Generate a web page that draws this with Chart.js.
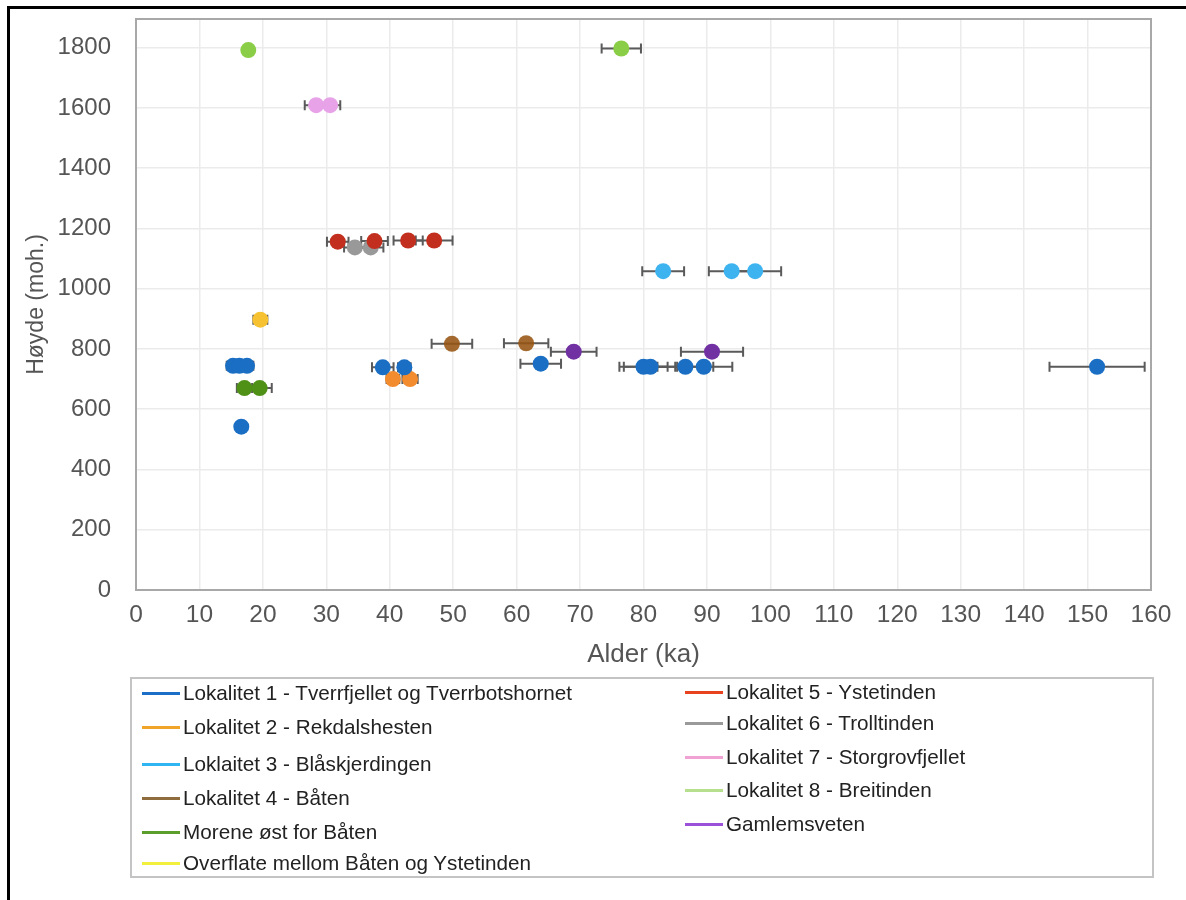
<!DOCTYPE html>
<html>
<head>
<meta charset="utf-8">
<script src="https://cdn.jsdelivr.net/npm/chart.js@4/dist/chart.umd.min.js"></script>
<style>
  body { margin: 0; background: #fff; font-family: "Liberation Sans", Arial, sans-serif; }
  #wrap { position: absolute; left: 0; top: 0; width: 1186px; height: 900px; }
  #frame { position: absolute; left: 7px; top: 6px; width: 1179px; height: 894px;
           border-top: 3px solid #000; border-left: 3px solid #000; box-sizing: border-box; }
  #legend { position: absolute; left: 130px; top: 677px; width: 1024px; height: 201px;
            border: 2px solid #c4c4c4; box-sizing: border-box; }
  .item { position: absolute; height: 24px; line-height: 24px; font-size: 20.7px; color: #222; white-space: nowrap; }
  .item span.line { position: absolute; left: 0; top: 11px; width: 38px; height: 3px; }
  .item span.txt { position: absolute; left: 41px; top: 0; }
</style>
</head>
<body>
<div id="frame"></div>
<div id="wrap"><canvas id="AgeHeightChart"></canvas></div>
<div id="legend"></div>
<script>
// series names
const seriesNames = [
  "Lokalitet 1 - Tverrfjellet og Tverrbotshornet",
  "Lokalitet 2 - Rekdalshesten",
  "Loklaitet 3 - Blåskjerdingen",
  "Lokalitet 4 - Båten",
  "Morene øst for Båten",
  "Overflate mellom Båten og Ystetinden",
  "Lokalitet 5 - Ystetinden",
  "Lokalitet 6 - Trolltinden",
  "Lokalitet 7 - Storgrovfjellet",
  "Lokalitet 8 - Breitinden",
  "Gamlemsveten"
];

// age (ka), height (moh.) and age error (ka) per series
const l1Age = [15.3, 16.3, 17.5, 16.6, 38.9, 42.3, 63.8, 80.0, 81.1, 86.6, 89.5, 151.5];
const l1Height = [744, 744, 744, 542, 739, 739, 751, 741, 741, 741, 741, 741];
const l1Err = [1.0, 1.0, 1.0, 0.5, 1.7, 1.0, 3.2, 3.8, 4.2, 4.4, 4.5, 7.5];

const l2Age = [40.5, 43.2];
const l2Height = [700, 700];
const l2Err = [1.0, 1.2];

const l3Age = [83.1, 93.9, 97.6];
const l3Height = [1058, 1058, 1058];
const l3Err = [3.3, 3.6, 4.1];

const l4Age = [49.8, 61.5];
const l4Height = [817, 819];
const l4Err = [3.2, 3.5];

const moreneAge = [17.1, 19.5];
const moreneHeight = [670, 670];
const moreneErr = [1.2, 1.9];

const overflateAge = [19.6];
const overflateHeight = [897];
const overflateErr = [1.1];

const l5Age = [31.8, 37.6, 42.9, 47.0];
const l5Height = [1156, 1158, 1160, 1160];
const l5Err = [1.7, 2.1, 2.3, 2.9];

const l6Age = [34.5, 37.0];
const l6Height = [1137, 1137];
const l6Err = [1.7, 2.0];

const l7Age = [28.4, 30.6];
const l7Height = [1609, 1609];
const l7Err = [1.8, 1.6];

const l8Age = [17.7, 76.5];
const l8Height = [1792, 1797];
const l8Err = [0.5, 3.1];

const gamlemAge = [69.0, 90.8];
const gamlemHeight = [791, 791];
const gamlemErr = [3.6, 4.9];

const ageList = [l1Age, l2Age, l3Age, l4Age, moreneAge, overflateAge, l5Age, l6Age, l7Age, l8Age, gamlemAge];
const heightList = [l1Height, l2Height, l3Height, l4Height, moreneHeight, overflateHeight, l5Height, l6Height, l7Height, l8Height, gamlemHeight];
const errList = [l1Err, l2Err, l3Err, l4Err, moreneErr, overflateErr, l5Err, l6Err, l7Err, l8Err, gamlemErr];

// marker colours and legend line colours
const markerColors = ["#1a6ec3", "#f28c2e", "#3db3f0", "rgba(150,84,18,0.88)", "#4f9116", "#f7c232",
                      "#c22f1e", "#999999", "#e7a2e8", "#8acd47", "#7231a3"];
const legendColors = ["#1b6fc6", "#f0a52a", "#2fb5f2", "#8e6c3e", "#5c9e2c", "#f2f03c",
                      "#e8431e", "#9a9a9a", "#f0a2d4", "#b6e08e", "#9c52d8"];

const xTickMax = 160;
const yTickMax = 1800;

const datasets = seriesNames.map((name, i) => ({
  label: name,
  data: ageList[i].map((a, j) => ({ x: a, y: heightList[i][j], err: errList[i][j] })),
  backgroundColor: markerColors[i],
  borderWidth: 0,
  pointRadius: 8,
  pointHoverRadius: 8,
  legendColor: legendColors[i]
}));

// horizontal error bars, drawn through the chart scales
const errorBars = {
  id: "errorBars",
  beforeDatasetsDraw(chart) {
    const ctx = chart.ctx;
    const xs = chart.scales.x, ys = chart.scales.y;
    ctx.save();
    ctx.strokeStyle = "#5a5a5a";
    ctx.lineWidth = 2;
    chart.data.datasets.forEach(ds => {
      ds.data.forEach(p => {
        if (!p.err) return;
        const y = ys.getPixelForValue(p.y);
        const x1 = xs.getPixelForValue(p.x - p.err);
        const x2 = xs.getPixelForValue(p.x + p.err);
        ctx.beginPath();
        ctx.moveTo(x1, y); ctx.lineTo(x2, y);
        ctx.moveTo(x1, y - 5); ctx.lineTo(x1, y + 5);
        ctx.moveTo(x2, y - 5); ctx.lineTo(x2, y + 5);
        ctx.stroke();
      });
    });
    ctx.restore();
  },
  afterDraw(chart) {
    const a = chart.chartArea, ctx = chart.ctx;
    ctx.save();
    ctx.strokeStyle = "#a8a8a8";
    ctx.lineWidth = 2;
    ctx.strokeRect(a.left, a.top, a.right - a.left, a.bottom - a.top);
    ctx.restore();
  }
};

const AgeChart = document.getElementById("AgeHeightChart");
const chart = new Chart(AgeChart, {
  type: "scatter",
  data: { datasets: datasets },
  plugins: [errorBars],
  options: {
    responsive: true,
    maintainAspectRatio: false,
    animation: false,
    layout: { padding: { top: 19, right: 35, bottom: 230, left: 0 } },
    plugins: {
      legend: { display: false },
      tooltip: { enabled: false }
    },
    scales: {
      x: {
        type: "linear",
        min: 0,
        max: xTickMax,
        afterFit: s => { s.height = 80; s.paddingLeft = 0; s.paddingRight = 0; },
        ticks: { stepSize: 10, padding: 11, color: "#555", font: { family: "'Liberation Sans', Arial", size: 24.5 } },
        grid: { color: "#ebebeb", lineWidth: 1.5, drawTicks: false },
        border: { color: "#a8a8a8", width: 2 },
        title: {
          display: true, text: "Alder (ka)", color: "#555",
          font: { family: "'Liberation Sans', Arial", size: 26 }, padding: { top: 0, bottom: 0 }
        }
      },
      y: {
        min: 0,
        max: 1895,
        afterFit: s => { s.width = 136; s.paddingTop = 0; s.paddingBottom = 0; },
        afterBuildTicks: s => { s.ticks = s.ticks.filter(t => t.value % 200 === 0 && t.value <= yTickMax); },
        ticks: {
          stepSize: 200, padding: 25, color: "#555",
          font: { family: "'Liberation Sans', Arial", size: 24 },
          callback: v => String(v)
        },
        grid: { color: "#ebebeb", lineWidth: 1.5, drawTicks: false },
        border: { color: "#a8a8a8", width: 2 },
        title: {
          display: true, text: "Høyde (moh.)", color: "#555",
          font: { family: "'Liberation Sans', Arial", size: 23 }, padding: { top: 23, bottom: 0 }
        }
      }
    }
  }
});

// two-column legend built from the datasets
const legendRows = [693, 727, 764, 798, 832, 863, 692, 723, 757, 790, 824];
const legendBox = document.getElementById("legend");
chart.data.datasets.forEach((ds, i) => {
  const left = i < 6 ? 10 : 553;
  const el = document.createElement("div");
  el.className = "item";
  el.style.left = left + "px";
  el.style.top = (legendRows[i] - 677 - 2 - 12) + "px";
  el.innerHTML = '<span class="line" style="background:' + ds.legendColor + '"></span><span class="txt"></span>';
  el.querySelector(".txt").textContent = ds.label;
  legendBox.appendChild(el);
});
</script>
</body>
</html>
